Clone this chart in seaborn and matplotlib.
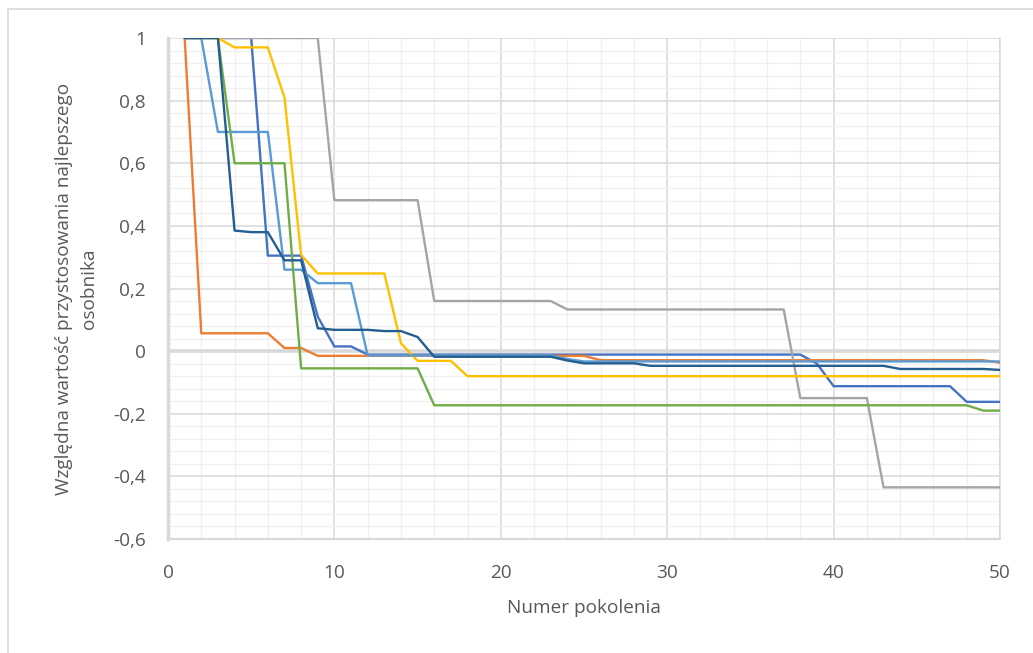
import numpy as np
import pandas as pd
import matplotlib
matplotlib.use("Agg")
import matplotlib.pyplot as plt
from matplotlib.lines import Line2D
from matplotlib.ticker import MultipleLocator, FixedLocator
import seaborn as sns

# ---------------- data ----------------
pokolenie = list(range(1, 51))

seria_1 = [1.0, 1.0, 1.0, 1.0, 1.0, 0.305, 0.305, 0.305, 0.11, 0.015,
           0.015, -0.011, -0.011, -0.011, -0.011, -0.011, -0.011, -0.011, -0.011, -0.011,
           -0.011, -0.011, -0.011, -0.011, -0.011, -0.011, -0.011, -0.011, -0.011, -0.011,
           -0.011, -0.011, -0.011, -0.011, -0.011, -0.011, -0.011, -0.011, -0.04, -0.112,
           -0.112, -0.112, -0.112, -0.112, -0.112, -0.112, -0.112, -0.162, -0.162, -0.162]

seria_2 = [1.0, 0.057, 0.057, 0.057, 0.057, 0.057, 0.010, 0.010, -0.015, -0.015,
           -0.015, -0.015, -0.015, -0.015, -0.015, -0.015, -0.015, -0.015, -0.015, -0.015,
           -0.015, -0.015, -0.015, -0.015, -0.015, -0.029, -0.029, -0.029, -0.029, -0.029,
           -0.029, -0.029, -0.029, -0.029, -0.029, -0.029, -0.029, -0.029, -0.029, -0.029,
           -0.029, -0.029, -0.029, -0.029, -0.029, -0.029, -0.029, -0.029, -0.029, -0.037]

seria_3 = [1.0, 1.0, 1.0, 1.0, 1.0, 1.0, 1.0, 1.0, 1.0, 0.482,
           0.482, 0.482, 0.482, 0.482, 0.482, 0.16, 0.16, 0.16, 0.16, 0.16,
           0.16, 0.16, 0.16, 0.133, 0.133, 0.133, 0.133, 0.133, 0.133, 0.133,
           0.133, 0.133, 0.133, 0.133, 0.133, 0.133, 0.133, -0.15, -0.15, -0.15,
           -0.15, -0.15, -0.435, -0.435, -0.435, -0.435, -0.435, -0.435, -0.435, -0.435]

seria_4 = [1.0, 1.0, 1.0, 0.97, 0.97, 0.97, 0.81, 0.307, 0.248, 0.248,
           0.248, 0.248, 0.248, 0.025, -0.031, -0.031, -0.031, -0.08, -0.08, -0.08,
           -0.08, -0.08, -0.08, -0.08, -0.08, -0.08, -0.08, -0.08, -0.08, -0.08,
           -0.08, -0.08, -0.08, -0.08, -0.08, -0.08, -0.08, -0.08, -0.08, -0.08,
           -0.08, -0.08, -0.08, -0.08, -0.08, -0.08, -0.08, -0.08, -0.08, -0.08]

seria_5 = [1.0, 1.0, 0.70, 0.70, 0.70, 0.70, 0.26, 0.26, 0.217, 0.217,
           0.217, -0.014, -0.014, -0.014, -0.014, -0.014, -0.014, -0.014, -0.014, -0.014,
           -0.014, -0.014, -0.014, -0.025, -0.033, -0.033, -0.033, -0.033, -0.033, -0.033,
           -0.033, -0.033, -0.033, -0.033, -0.033, -0.033, -0.033, -0.033, -0.033, -0.033,
           -0.033, -0.033, -0.033, -0.033, -0.033, -0.033, -0.033, -0.033, -0.033, -0.033]

seria_6 = [1.0, 1.0, 1.0, 0.60, 0.60, 0.60, 0.60, -0.055, -0.055, -0.055,
           -0.055, -0.055, -0.055, -0.055, -0.055, -0.173, -0.173, -0.173, -0.173, -0.173,
           -0.173, -0.173, -0.173, -0.173, -0.173, -0.173, -0.173, -0.173, -0.173, -0.173,
           -0.173, -0.173, -0.173, -0.173, -0.173, -0.173, -0.173, -0.173, -0.173, -0.173,
           -0.173, -0.173, -0.173, -0.173, -0.173, -0.173, -0.173, -0.173, -0.19, -0.19]

seria_7 = [1.0, 1.0, 1.0, 0.385, 0.38, 0.38, 0.29, 0.29, 0.073, 0.068,
           0.068, 0.068, 0.064, 0.064, 0.045, -0.018, -0.018, -0.018, -0.018, -0.018,
           -0.018, -0.018, -0.018, -0.03, -0.039, -0.039, -0.039, -0.039, -0.047, -0.047,
           -0.047, -0.047, -0.047, -0.047, -0.047, -0.047, -0.047, -0.047, -0.047, -0.047,
           -0.047, -0.047, -0.047, -0.057, -0.057, -0.057, -0.057, -0.057, -0.057, -0.06]

serie_nazwy = ["Seria 1", "Seria 2", "Seria 3", "Seria 4", "Seria 5", "Seria 6", "Seria 7"]
serie_kolory = ["#4472C4", "#ED7D31", "#A5A5A5", "#FFC000", "#5B9BD5", "#70AD47", "#255E91"]

x_ticks = [0, 10, 20, 30, 40, 50]
x_tick_labels = ["0", "10", "20", "30", "40", "50"]
y_ticks = [-0.6, -0.4, -0.2, 0.0, 0.2, 0.4, 0.6, 0.8, 1.0]
y_tick_labels = ["-0,6", "-0,4", "-0,2", "0", "0,2", "0,4", "0,6", "0,8", "1"]

x_label = "Numer pokolenia"
y_label = "Względna wartość przystosowania najlepszego\nosobnika"

# ---------------- build table ----------------
wartosci = [seria_1, seria_2, seria_3, seria_4, seria_5, seria_6, seria_7]
df = pd.concat(
    [pd.DataFrame({"pokolenie": pokolenie, "wartosc": v, "seria": n})
     for n, v in zip(serie_nazwy, wartosci)],
    ignore_index=True,
)

# ---------------- plot ----------------
sns.set_theme(style="white")
plt.rcParams["font.family"] = ["Open Sans", "DejaVu Sans"]

fig = plt.figure(figsize=(10.33, 6.53), dpi=100)
ax = fig.add_axes([168 / 1033, 1 - 539 / 653, (1000 - 168) / 1033, (539 - 38) / 653])

grid_major = "#D9D9D9"
grid_minor = "#F0F0F0"
fs = 13.7

ax.set_xlim(0, 50)
ax.set_ylim(-0.6, 1.0)
ax.xaxis.set_major_locator(FixedLocator(x_ticks))
ax.yaxis.set_major_locator(FixedLocator(y_ticks))
ax.xaxis.set_minor_locator(MultipleLocator(2))
ax.yaxis.set_minor_locator(MultipleLocator(0.04))
ax.grid(which="minor", color=grid_minor, linewidth=1.0, zorder=0)
ax.grid(which="major", color=grid_major, linewidth=1.1, zorder=0)
ax.set_axisbelow(True)

ax.spines["top"].set_visible(False)
ax.spines["right"].set_color(grid_major)
ax.spines["right"].set_linewidth(1.1)
ax.spines["left"].set_color(grid_major)
ax.spines["left"].set_linewidth(2.5)
ax.spines["bottom"].set_color(grid_major)
ax.spines["bottom"].set_linewidth(1.6)
ax.axhline(0, color=grid_major, linewidth=2.6, zorder=1)

sns.lineplot(data=df, x="pokolenie", y="wartosc", hue="seria",
             hue_order=serie_nazwy, palette=serie_kolory, linewidth=1.7,
             legend=False, ax=ax, zorder=3)

ax.set_xticklabels(x_tick_labels)
ax.set_yticklabels(y_tick_labels)
ax.tick_params(axis="both", which="both", length=0, labelsize=fs, colors="#595959")
ax.tick_params(axis="x", pad=18)
ax.tick_params(axis="y", pad=16)

ax.set_xlabel(x_label, fontsize=fs, color="#595959", labelpad=12)
ax.set_ylabel(y_label, fontsize=fs, color="#595959", labelpad=11, linespacing=1.45)

# outer chart border (left and top visible)
fig.add_artist(Line2D([8 / 1033, 8 / 1033], [0, 1 - 9 / 653], transform=fig.transFigure,
                      color="#D9D9D9", linewidth=1.2))
fig.add_artist(Line2D([8 / 1033, 1], [1 - 9 / 653, 1 - 9 / 653], transform=fig.transFigure,
                      color="#D9D9D9", linewidth=1.2))

fig.savefig("out.png", dpi=100, facecolor="white")
